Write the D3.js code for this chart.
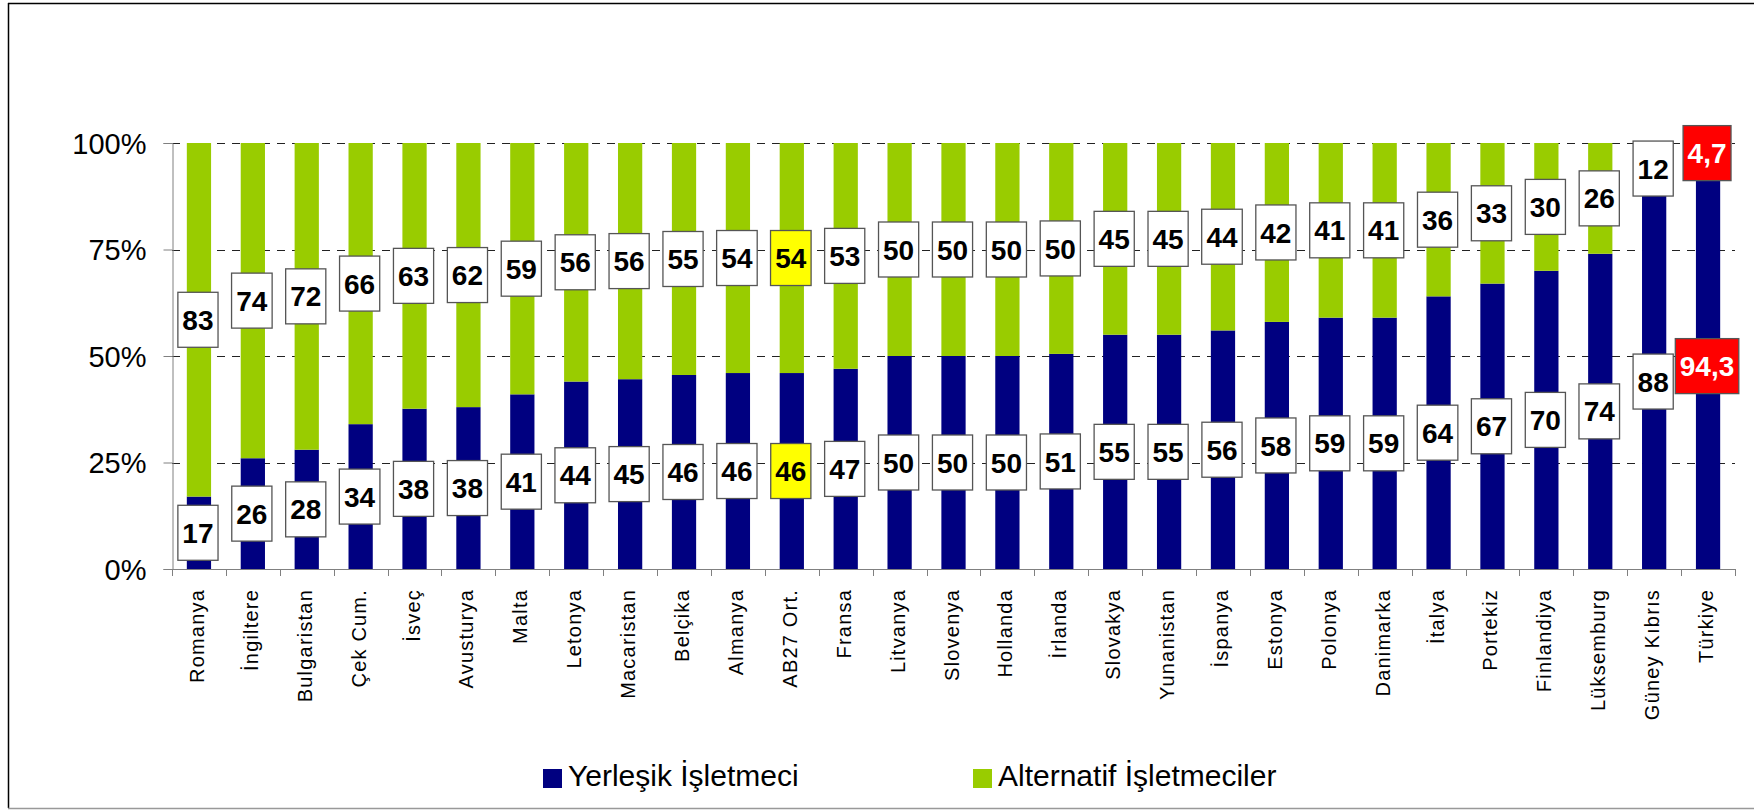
<!DOCTYPE html>
<html><head><meta charset="utf-8">
<script src="https://cdn.jsdelivr.net/npm/d3@7"></script>
<style>
html,body{margin:0;padding:0;background:#fff;}
svg{display:block;}
text{font-family:"Liberation Sans",Arial,sans-serif;}
</style></head>
<body>
<svg id="chart" width="1754" height="811"></svg>
<script>
const categories = ["Romanya","İngiltere","Bulgaristan","Çek Cum.","İsveç","Avusturya","Malta","Letonya","Macaristan","Belçika","Almanya","AB27 Ort.","Fransa","Litvanya","Slovenya","Hollanda","İrlanda","Slovakya","Yunanistan","İspanya","Estonya","Polonya","Danimarka","İtalya","Portekiz","Finlandiya","Lüksemburg","Güney Kıbrıs","Türkiye"];
const incumbent = [17,26,28,34,38,38,41,44,45,46,46,46,47,50,50,50,51,55,55,56,58,59,59,64,67,70,74,88,94.3];
const alternative = [83,74,72,66,63,62,59,56,56,55,54,54,53,50,50,50,50,45,45,44,42,41,41,36,33,30,26,12,4.7];
const seriesNames = ["Yerleşik İşletmeci","Alternatif İşletmeciler"];
const yTicks = [0,0.25,0.5,0.75,1];

const colors = {inc:"#000080", alt:"#99CC00"};
const svg = d3.select("#chart");

// outer frame
svg.append("line").attr("x1",8).attr("x2",1754).attr("y1",3.5).attr("y2",3.5).attr("stroke","#000").attr("stroke-width",1.5);
svg.append("line").attr("x1",8.5).attr("x2",8.5).attr("y1",3).attr("y2",808).attr("stroke","#000").attr("stroke-width",1.5);
svg.append("line").attr("x1",8).attr("x2",1754).attr("y1",808.5).attr("y2",808.5).attr("stroke","#999").attr("stroke-width",1.5);

const x = d3.scaleBand().domain(categories).range([172,1735]).paddingInner(0.55).paddingOuter(0.275);
const y = d3.scaleLinear().domain([0,1]).range([569,143]);

// gridlines
svg.append("g").selectAll("line").data(yTicks.filter(d=>d>0)).join("line")
  .attr("x1",172).attr("x2",1735)
  .attr("y1",d=>Math.round(y(d))+0.5).attr("y2",d=>Math.round(y(d))+0.5)
  .attr("stroke","#222").attr("stroke-width",1).attr("stroke-dasharray","8,7");

// y axis
const yAxis = d3.axisLeft(y).tickValues(yTicks).tickFormat(d3.format(".0%")).tickSize(9).tickPadding(17);
const gy = svg.append("g").attr("transform","translate(172.5,0)").call(yAxis);
gy.select(".domain").attr("stroke","#808080");
gy.selectAll(".tick line").attr("stroke","#808080");
gy.selectAll(".tick text").attr("font-size",29).attr("fill","#000").attr("font-family","Liberation Sans, Arial, sans-serif").attr("dy","0.36em");

// bars
const rows = categories.map((c,i)=>{
  const tot = incumbent[i]+alternative[i];
  return {c, inc:incumbent[i], alt:alternative[i], p:incumbent[i]/tot};
});
const gb = svg.append("g");
gb.selectAll("rect.inc").data(rows).join("rect").attr("class","inc")
  .attr("x",d=>x(d.c)).attr("width",x.bandwidth())
  .attr("y",d=>y(d.p)).attr("height",d=>y(0)-y(d.p)).attr("fill",colors.inc);
gb.selectAll("rect.alt").data(rows).join("rect").attr("class","alt")
  .attr("x",d=>x(d.c)).attr("width",x.bandwidth())
  .attr("y",d=>y(1)).attr("height",d=>y(d.p)-y(1)).attr("fill",colors.alt);

// x axis
const xAxisScale = d3.scaleLinear().domain([0,categories.length]).range([172,1735]);
const gx = svg.append("g");
gx.append("line").attr("x1",172).attr("x2",1735).attr("y1",569.5).attr("y2",569.5).attr("stroke","#808080");
gx.selectAll("line.t").data(d3.range(categories.length+1)).join("line").attr("class","t")
  .attr("x1",d=>Math.round(xAxisScale(d))+0.5).attr("x2",d=>Math.round(xAxisScale(d))+0.5)
  .attr("y1",569).attr("y2",576).attr("stroke","#808080");
gx.selectAll("text").data(categories).join("text")
  .attr("transform",d=>`translate(${x(d)+x.bandwidth()/2+5},589) rotate(-90)`)
  .attr("text-anchor","end").attr("font-size",20).attr("letter-spacing","1.2px").attr("fill","#000")
  .text(d=>d);

// data labels
const fmt = v => String(v).replace(".",",");
function boxStyle(c){
  if (c==="AB27 Ort.") return {fill:"#FFFF00", text:"#000"};
  if (c==="Türkiye") return {fill:"#FF0000", text:"#fff"};
  return {fill:"#fff", text:"#000"};
}
const labels = [];
rows.forEach(r=>{
  labels.push({c:r.c, v:r.inc, mid:r.p/2});
  labels.push({c:r.c, v:r.alt, mid:r.p+(1-r.p)/2});
});
const gl = svg.append("g");
labels.forEach(l=>{
  const st = boxStyle(l.c);
  const cx = x(l.c)+x.bandwidth()/2 - 1;
  const cy = y(l.mid);
  const g = gl.append("g");
  const rect = g.append("rect").attr("fill",st.fill).attr("stroke","#555").attr("stroke-width",1.3);
  const t = g.append("text").attr("x",cx).attr("y",cy).attr("dy","0.36em")
    .attr("text-anchor","middle").attr("font-size",28).attr("font-weight","bold").attr("fill",st.text)
    .text(fmt(l.v));
  const w = t.node().getBBox().width + 9;
  rect.attr("x",cx-w/2).attr("y",cy-27.5).attr("width",w).attr("height",55);
});

// legend
const legend = [
  {name:seriesNames[0], color:colors.inc, x:543},
  {name:seriesNames[1], color:colors.alt, x:973}
];
const gleg = svg.append("g");
legend.forEach(l=>{
  gleg.append("rect").attr("x",l.x).attr("y",769).attr("width",19).attr("height",19).attr("fill",l.color);
  gleg.append("text").attr("x",l.x+25).attr("y",786).attr("font-size",30).attr("fill","#000").text(l.name);
});
</script>
</body></html>
